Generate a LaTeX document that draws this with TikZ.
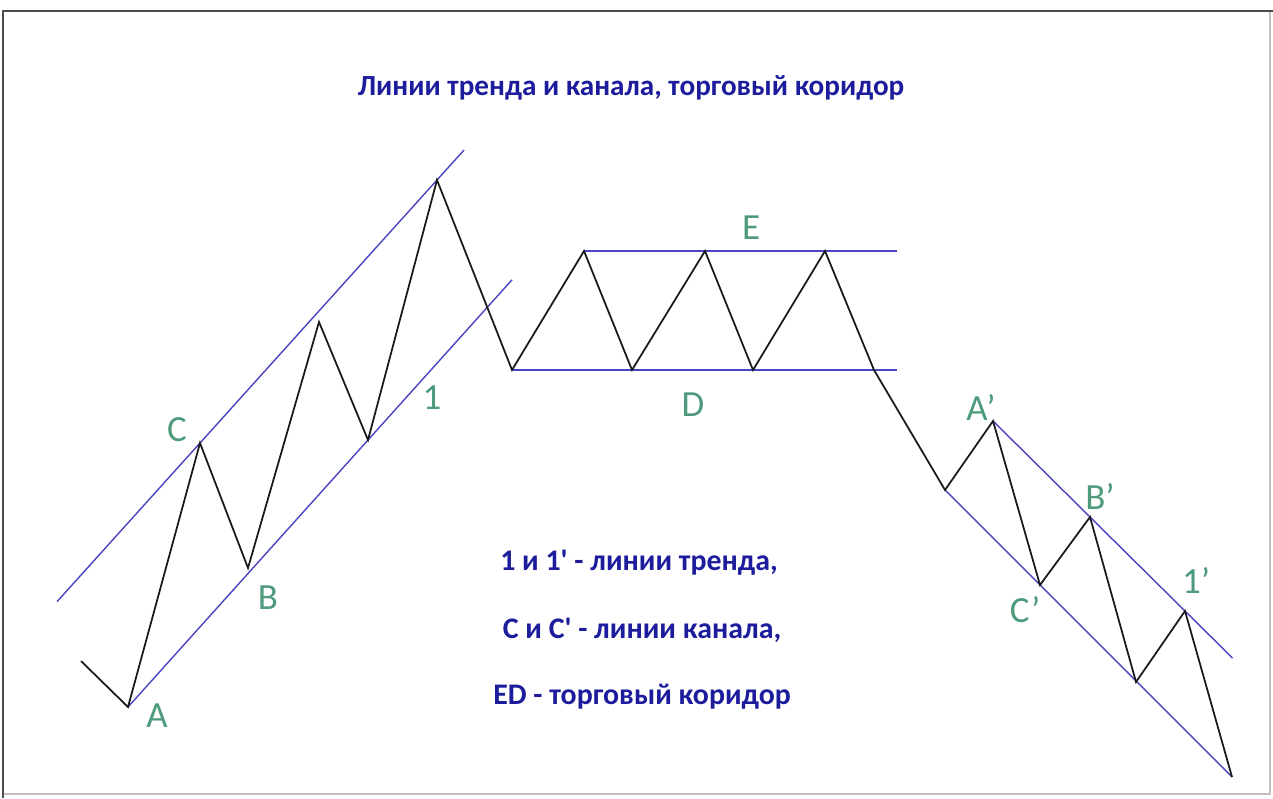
\documentclass[tikz,border=0pt]{standalone}
\usepackage{fontspec}
\setmainfont{Carlito}
\usetikzlibrary{calc,positioning}
\definecolor{trendblue}{HTML}{4A44C2}
\definecolor{textnavy}{HTML}{1C1C9C}
\definecolor{labelgreen}{HTML}{4E9B7C}
\definecolor{framegray}{HTML}{4D4D4D}

\begin{document}
\begin{tikzpicture}[
  x=0.02cm, y=-0.02cm,
  priceline/.style={draw=black!90, line width=1pt, line join=miter},
  channelline/.style={draw=trendblue, line width=0.8pt},
  pointlabel/.style={font=\fontsize{21}{21}\selectfont, text=labelgreen, inner sep=0pt},
  notetext/.style={font=\fontsize{17}{19}\selectfont\bfseries, text=textnavy, inner sep=0pt}
]
  \useasboundingbox (0,0) rectangle (1273,798);

  % Frame
  \draw[framegray!35, line width=0.6pt] (1270,11) -- (1270,794) -- (3,794);
  \draw[framegray, line width=1.2pt] (3,798) -- (3,11) -- (1273,11);

  % Title
  \node[notetext, font=\fontsize{16.6}{18}\selectfont\bfseries] (title) at (631,88) {Линии тренда и канала, торговый коридор};

  % Price swing points
  \coordinate (start) at (81,661);
  \coordinate (ptA) at (128,707);
  \coordinate (ptC) at (200,443);
  \coordinate (ptB) at (248,568);
  \coordinate (hiTwo) at (319,322);
  \coordinate (loTwo) at (368,440);
  \coordinate (hiTop) at (437,180);
  \coordinate (loD) at (512,370);
  \coordinate (hiE1) at (584,251);
  \coordinate (loD1) at (632,370);
  \coordinate (hiE2) at (705,251);
  \coordinate (loD2) at (753,370);
  \coordinate (hiE3) at (825,251);
  \coordinate (brk) at (874,370);
  \coordinate (loDn) at (945,490);
  \coordinate (ptAp) at (993,421);
  \coordinate (ptCp) at (1040,585);
  \coordinate (ptBp) at (1090,517);
  \coordinate (loDn2) at (1136,682);
  \coordinate (hiDn2) at (1185,611);
  \coordinate (finish) at (1232,777);

  % Corridor ends
  \coordinate (eEnd) at (897,251);
  \coordinate (dEnd) at (897,370);

  % Channel and trend lines
  \draw[channelline] ($(ptC)!-0.603!(hiTop)$) -- ($(ptC)!1.114!(hiTop)$);
  \draw[channelline] (ptA) -- ($(ptA)!1.6!(loTwo)$);
  \draw[channelline] (hiE1) -- (eEnd);
  \draw[channelline] (loD) -- (dEnd);
  \draw[channelline] (ptAp) -- ($(ptAp)!2.47!(ptBp)$);
  \draw[channelline] (loDn) -- (finish);

  % Price path
  \draw[priceline] (start) -- (ptA) -- (ptC) -- (ptB) -- (hiTwo) -- (loTwo) -- (hiTop)
    -- (loD) -- (hiE1) -- (loD1) -- (hiE2) -- (loD2) -- (hiE3) -- (brk)
    -- (loDn) -- (ptAp) -- (ptCp) -- (ptBp) -- (loDn2) -- (hiDn2) -- (finish);

  % Point labels
  \node[pointlabel] (lblC) at (177,430) {C};
  \node[pointlabel] (lblB) at (268,598) {B};
  \node[pointlabel] (lblA) at (157,716) {A};
  \node[pointlabel] (lblOne) at (432,398) {1};
  \node[pointlabel] (lblE) at (751,228) {E};
  \node[pointlabel] (lblD) at (693,405) {D};
  \node[pointlabel] (lblAp) at (981,407) {A’};
  \node[pointlabel] (lblBp) at (1100,496) {B’};
  \node[pointlabel] (lblCp) at (1025,610) {C’};
  \node[pointlabel] (lblOnep) at (1196,580) {1’};

  % Legend text
  \node[notetext] (noteTrend) at (639,563) {1 и 1\textquotesingle{} - линии тренда,};
  \node[notetext] (noteChan) at (642,630) {С и С\textquotesingle{} - линии канала,};
  \node[notetext] (noteCorr) at (642,697) {ED - торговый коридор};

\end{tikzpicture}
\end{document}
